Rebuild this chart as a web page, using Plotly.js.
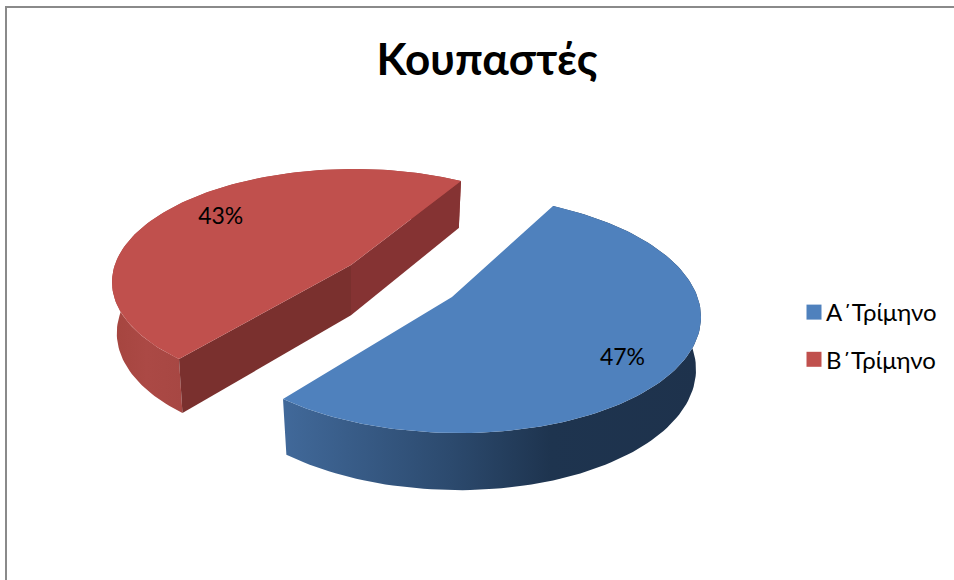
<!DOCTYPE html>
<html>
<head>
<meta charset="utf-8">
<script src="https://cdn.plot.ly/plotly-3.0.1.min.js"></script>
<style>html,body{margin:0;padding:0;background:#fff;overflow:hidden}</style>
</head>
<body>
<div id="chart" style="width:954px;height:580px"></div>
<script>
// ---- data ----
const categories = ['Α΄Τρίμηνο', 'Β΄Τρίμηνο'];
const percentValues = [47, 43];
const chartTitle = 'Κουπαστές';

// ---- styles ----
const topColors = ['#4f81bd', '#c0504d'];
const wallScales = [
  [[0, '#41699a'], [0.4, '#2c4a6e'], [0.64, '#1e344f'], [1, '#1e324c']],
  [[0, '#a5453f'], [0.1, '#ab4945'], [0.3, '#a34541'], [1, '#a34541']]
];
const cutColors = [[null, null], ['#853333', '#7a302e']];
const FONT = 'Lato, "Noto Sans", "Open Sans", sans-serif';

// ---- view of each exploded slice: apex, slice corners and two rim reference points
// (f1, f2 = share of the slice's sweep at which the rim reference points sit) ----
const views = [
  {apex: [452, 297], first: [553, 206], last: [283, 399],
   rimA: [701, 318], rimB: [467, 433], f1: 71 / 188, f2: 148 / 188, label: [0.81, 0.525]},
  {apex: [351, 265], first: [179, 359], last: [461, 181],
   rimA: [112, 283], rimB: [350, 169], f1: 41 / 172, f2: 140 / 172, label: [0.74, 0.51]}
];

function solve(A, b) {
  const n = b.length, M = A.map((r, i) => r.concat(b[i]));
  for (let c = 0; c < n; c++) {
    let p = c;
    for (let r = c + 1; r < n; r++) if (Math.abs(M[r][c]) > Math.abs(M[p][c])) p = r;
    [M[c], M[p]] = [M[p], M[c]];
    for (let r = 0; r < n; r++) {
      if (r === c) continue;
      const f = M[r][c] / M[c][c];
      for (let k = c; k <= n; k++) M[r][k] -= f * M[c][k];
    }
  }
  return M.map((r, i) => r[n] / r[i]);
}
function homography(src, dst) {
  const A = [], b = [];
  src.forEach((s, i) => {
    const [X, Y] = s, [u, v] = dst[i];
    A.push([X, Y, 1, 0, 0, 0, -u * X, -u * Y]); b.push(u);
    A.push([0, 0, 0, X, Y, 1, -v * X, -v * Y]); b.push(v);
  });
  const h = solve(A, b);
  return (X, Y) => {
    const w = h[6] * X + h[7] * Y + 1;
    return [(h[0] * X + h[1] * Y + h[2]) / w, (h[3] * X + h[4] * Y + h[5]) / w];
  };
}
const rad = d => d * Math.PI / 180;
const disc = (deg, r = 1) => [r * Math.sin(rad(deg)), r * Math.cos(rad(deg))];
const total = percentValues.reduce((a, b) => a + b, 0);

const wallTraces = [], cutTraces = [], topTraces = [], labelX = [], labelY = [], labelText = [];
let cum = 0;
percentValues.forEach((val, i) => {
  const a0 = cum / total * 360, a1 = (cum + val) / total * 360;
  cum += val;
  const v = views[i], sw = a1 - a0;
  const proj = homography(
    [disc(a0), disc(a0 + sw * v.f1), disc(a0 + sw * v.f2), disc(a1)],
    [v.first, v.rimA, v.rimB, v.last]);
  const down = p => {
    const d = 47 + 0.04 * (p[1] - 181);
    return [v.apex[0] + (p[0] - v.apex[0]) * 0.98, p[1] + d];
  };
  const rim = [];
  for (let k = 0; k <= 120; k++) rim.push(proj(...disc(a0 + sw * k / 120)));
  const base = rim.map(down);
  const wall = rim.concat(base.slice().reverse());
  wallTraces.push({
    type: 'scatter', mode: 'lines', x: wall.map(p => p[0]), y: wall.map(p => p[1]),
    fill: 'toself', line: {width: 0}, fillcolor: wallScales[i][0][1],
    fillgradient: {type: 'horizontal', colorscale: wallScales[i]},
    hoverinfo: 'skip', showlegend: false
  });
  const A = v.apex, Ad = down(A);
  [[v.last, cutColors[i][0]], [v.first, cutColors[i][1]]].forEach(([corner, col]) => {
    if (!col) return;
    const cd = down(corner);
    cutTraces.push({
      type: 'scatter', mode: 'lines',
      x: [A[0], corner[0], cd[0], Ad[0], A[0]], y: [A[1], corner[1], cd[1], Ad[1], A[1]],
      fill: 'toself', fillcolor: col, line: {width: 0}, hoverinfo: 'skip', showlegend: false
    });
  });
  const face = [A].concat(rim, [A]);
  topTraces.push({
    type: 'scatter', mode: 'lines', x: face.map(p => p[0]), y: face.map(p => p[1]),
    fill: 'toself', fillcolor: topColors[i], line: {width: 0},
    name: categories[i], hoverinfo: 'name', showlegend: false
  });
  const lp = proj(...disc(a0 + sw * v.label[1], v.label[0]));
  labelX.push(lp[0]); labelY.push(lp[1]); labelText.push(val + '%');
});

const labelTrace = {
  type: 'scatter', mode: 'text', x: labelX, y: labelY, text: labelText,
  textposition: 'middle center', textfont: {family: FONT, size: 23, color: '#000'},
  hoverinfo: 'skip', showlegend: false
};
const legendTraces = categories.map((c, i) => ({
  type: 'scatter', mode: 'markers', x: [null], y: [null], name: c, legendgroup: 'g' + i,
  marker: {symbol: 'square', size: 15, color: topColors[i]}
}));

const layout = {
  width: 954, height: 580,
  margin: {l: 0, r: 0, t: 0, b: 0},
  paper_bgcolor: '#fff', plot_bgcolor: '#fff',
  title: {text: '<b>' + chartTitle + '</b>', font: {family: FONT, size: 44, color: '#000'},
          x: 487 / 954, xanchor: 'center', y: 1 - 60 / 580, yanchor: 'middle'},
  xaxis: {range: [0, 954], visible: false, fixedrange: true},
  yaxis: {range: [580, 0], visible: false, fixedrange: true},
  legend: {x: 786 / 954, y: 1 - 290 / 580, xanchor: 'left', yanchor: 'top',
           font: {family: FONT, size: 24, color: '#000'}, tracegroupgap: 13,
           traceorder: 'grouped', itemclick: false, itemdoubleclick: false, bgcolor: 'rgba(0,0,0,0)'},
  shapes: [
    {type: 'line', xref: 'x', yref: 'y', x0: 6, x1: 954, y0: 7, y1: 7, line: {color: '#8a8a8a', width: 2}},
    {type: 'line', xref: 'x', yref: 'y', x0: 6, x1: 6, y0: 6, y1: 580, line: {color: '#8a8a8a', width: 2}}
  ]
};
Plotly.newPlot('chart', wallTraces.concat(cutTraces, topTraces, [labelTrace], legendTraces), layout, {displayModeBar: false}).then(() => {
  document.querySelectorAll('.legendsymbols').forEach(s => s.setAttribute('transform', 'translate(8,0)'));
});
</script>
</body>
</html>
